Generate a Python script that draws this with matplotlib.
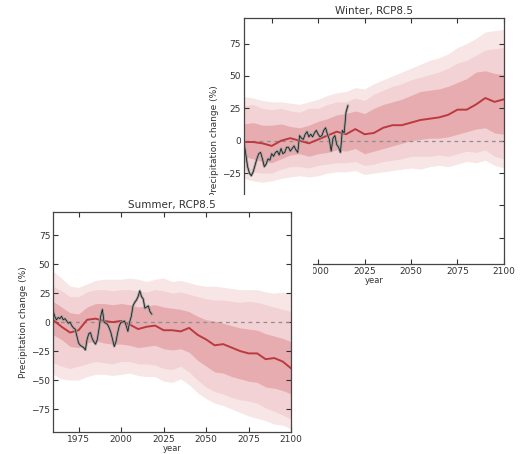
import matplotlib
matplotlib.use("Agg")
import matplotlib.pyplot as plt
from matplotlib.patches import Rectangle
import numpy as np

# ensemble years (5-yearly)
years = np.arange(1960, 2101, 5)

# Winter, RCP8.5
w_mean = [-1, -1, -2, -4, 0, 2, 0, -2, 1, 4, 7, 5, 9, 5, 6, 10, 12, 12, 14, 16,
          17, 18, 20, 24, 24, 28, 33, 30, 32]
w_in_hi = [13, 14, 12, 12, 13, 11, 10, 12, 15, 17, 20, 21, 23, 21, 25, 28, 30, 32,
           35, 38, 39, 40, 42, 45, 48, 53, 54, 52, 51]
w_in_lo = [-12, -14, -16, -17, -14, -11, -10, -12, -10, -9, -7, -8, -6, -10, -8, -6,
           -4, -2, 0, 1, 2, 2, 3, 5, 7, 9, 10, 6, 5]
w_mid_hi = [27, 28, 25, 24, 25, 23, 22, 25, 25, 28, 30, 30, 33, 31, 36, 39, 42, 44,
            47, 49, 51, 53, 56, 60, 62, 66, 70, 71, 72]
w_mid_lo = [-22, -24, -25, -25, -22, -20, -20, -21, -19, -18, -17, -17, -16, -19, -18,
            -16, -15, -14, -12, -12, -12, -11, -12, -10, -8, -9, -7, -12, -14]
w_out_hi = [34, 33, 31, 30, 30, 29, 28, 30, 32, 35, 37, 38, 41, 40, 44, 47, 50, 53,
            56, 59, 62, 64, 67, 72, 75, 79, 84, 85, 86]
w_out_lo = [-29, -31, -32, -31, -29, -28, -27, -28, -27, -25, -24, -24, -23, -26, -25,
            -24, -23, -22, -21, -22, -20, -19, -20, -18, -16, -17, -15, -19, -21]

w_obs_years = np.arange(1960, 2017)
w_obs = [-1, -10, -20, -25, -27, -24, -19, -14, -10, -9, -14, -20, -18, -14, -15, -10,
         -12, -9, -8, -11, -6, -10, -9, -5, -5, -8, -6, -4, -7, -9, 4, 2, 1, 5, 7, 3,
         5, 3, 6, 8, 5, 3, 4, 8, 10, 5, 1, -8, 2, 4, -3, -5, -9, 8, 6, 22, 27]

# Summer, RCP8.5
s_mean = [2, -4, -9, -7, 2, 3, 1, 0, 1, -2, -6, -4, -3, -7, -7, -8, -5, -11, -15, -20,
          -19, -22, -25, -27, -27, -32, -31, -34, -40]
s_in_hi = [18, 13, 8, 7, 13, 16, 16, 15, 16, 15, 13, 14, 15, 13, 12, 11, 9, 5, 2, 1,
           -1, -3, -5, -6, -7, -10, -12, -14, -17]
s_in_lo = [-11, -15, -21, -22, -18, -16, -18, -19, -19, -20, -22, -21, -20, -23, -24,
           -23, -26, -33, -38, -43, -44, -47, -49, -51, -52, -56, -57, -59, -62]
s_mid_hi = [31, 27, 22, 22, 26, 28, 28, 27, 28, 28, 27, 26, 28, 27, 25, 26, 24, 22,
            20, 19, 19, 18, 17, 18, 17, 15, 13, 11, 9]
s_mid_lo = [-35, -38, -40, -38, -36, -34, -35, -36, -34, -34, -36, -36, -37, -40, -41,
            -38, -43, -50, -56, -60, -62, -65, -67, -68, -70, -74, -77, -80, -84]
s_out_hi = [44, 38, 31, 30, 33, 36, 37, 37, 37, 38, 37, 35, 37, 38, 35, 36, 34, 32,
            31, 31, 30, 29, 28, 28, 28, 26, 25, 26, 24]
s_out_lo = [-45, -49, -50, -50, -47, -45, -45, -46, -45, -44, -46, -47, -47, -51, -52,
            -49, -54, -61, -66, -70, -72, -75, -78, -81, -83, -85, -88, -89, -92]

s_obs_years = np.arange(1960, 2019)
s_obs = [10, 5, 2, 4, 3, 5, 2, 3, 1, -1, 0, -3, -5, -6, -12, -18, -20, -21, -22, -24,
         -15, -10, -9, -14, -17, -19, -15, -6, 5, 11, 0, -1, -2, -5, -9, -15, -21, -17,
         -9, -3, 0, 0, 1, -3, -8, 0, 5, 14, 17, 19, 22, 27, 22, 20, 12, 13, 14, 9, 7]

xticks = [1975, 2000, 2025, 2050, 2075, 2100]
yticks = [-75, -50, -25, 0, 25, 50, 75]

c_out = '#f8e5e6'
c_mid = '#f2d2d4'
c_in = '#e7acaf'
c_line = '#bb3a40'


def draw_panel(ax, title, mean, in_hi, in_lo, mid_hi, mid_lo, out_hi, out_lo, oyrs, obs):
    ax.fill_between(years, out_lo, out_hi, color=c_out, lw=0)
    ax.fill_between(years, mid_lo, mid_hi, color=c_mid, lw=0)
    ax.fill_between(years, in_lo, in_hi, color=c_in, lw=0)
    ax.axhline(0, color='#8f8f8f', ls='--', lw=0.9, dashes=(3, 3))
    ax.plot(years, mean, color=c_line, lw=1.4)
    ax.plot(oyrs, obs, color='#9a9a9a', lw=1.8)
    ax.plot(oyrs, obs, color='#111111', lw=0.5)
    ax.set_xlim(1960, 2100)
    ax.set_ylim(-95, 95)
    ax.set_xticks(xticks)
    ax.set_yticks(yticks)
    ax.tick_params(direction='in', top=True, right=True, length=3.5, width=0.8,
                   labelsize=6.5, colors='#333333', pad=2)
    for s in ax.spines.values():
        s.set_color('#444444')
        s.set_linewidth(0.9)
    ax.set_title(title, fontsize=7.5, color='#333333', pad=3)
    ax.set_xlabel('year', fontsize=6, color='#333333', labelpad=0)
    ax.set_ylabel('Precipitation change (%)', fontsize=6.5, color='#333333', labelpad=2)


fig = plt.figure(figsize=(5.2, 4.54), dpi=100)

ax_w = fig.add_axes([0.469, 0.419, 0.5, 0.542], zorder=0)
draw_panel(ax_w, 'Winter, RCP8.5', w_mean, w_in_hi, w_in_lo, w_mid_hi, w_mid_lo,
           w_out_hi, w_out_lo, w_obs_years, w_obs)

# white background of the summer panel overlapping the winter one
fig.add_artist(Rectangle((0, 0), 0.602, 0.570, transform=fig.transFigure,
                         facecolor='white', edgecolor='none', zorder=1))

ax_s = fig.add_axes([0.102, 0.048, 0.458, 0.485], zorder=2)
draw_panel(ax_s, 'Summer, RCP8.5', s_mean, s_in_hi, s_in_lo, s_mid_hi, s_mid_lo,
           s_out_hi, s_out_lo, s_obs_years, s_obs)

fig.savefig('out.png', dpi=100)
